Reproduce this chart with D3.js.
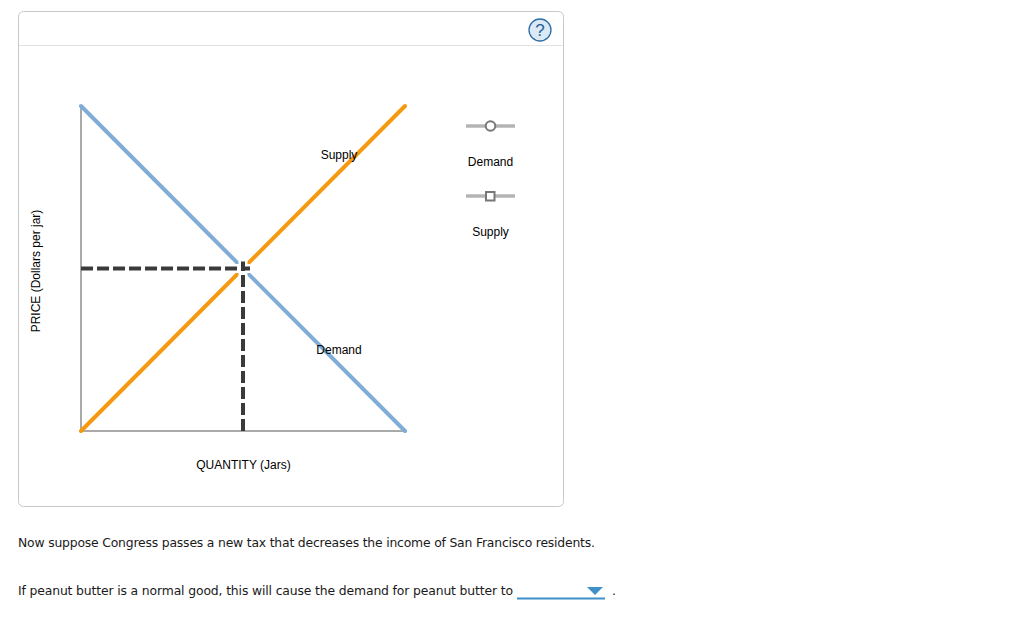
<!DOCTYPE html>
<html><head><meta charset="utf-8">
<script src="https://cdn.jsdelivr.net/npm/d3@7"></script>
<style>html,body{margin:0;padding:0;background:#fff;overflow:hidden}svg{display:block}</style>
</head><body><svg id="c" width="1023" height="617"></svg>
<script>
const demandQ=[0,100], demandP=[100,0];
const supplyQ=[0,100], supplyP=[0,100];
const eqQ=[50], eqP=[50];
const xLabel="QUANTITY (Jars)", yLabel="PRICE (Dollars per jar)";
const legendNames=["Demand","Supply"];
const para1="Now suppose Congress passes a new tax that decreases the income of San Francisco residents.";
const para2="If peanut butter is a normal good, this will cause the demand for peanut butter to";

const svg=d3.select("#c");
const x=d3.scaleLinear().domain([0,100]).range([81,405]);
const y=d3.scaleLinear().domain([0,100]).range([431,106]);
const sans="'Liberation Sans',Arial,sans-serif", verd="'DejaVu Sans',Verdana,sans-serif";

svg.append("rect").attr("x",18.5).attr("y",11.5).attr("width",545).attr("height",495).attr("rx",5)
  .attr("fill","#fff").attr("stroke","#c8c8c8");
svg.append("line").attr("x1",19).attr("x2",563).attr("y1",45.5).attr("y2",45.5).attr("stroke","#e2e2e2");

// help
const h=svg.append("g").attr("transform","translate(540,30)");
h.append("circle").attr("r",11).attr("fill","#dbe9f5").attr("stroke","#2f6ea5").attr("stroke-width",1.3);
h.append("text").attr("text-anchor","middle").attr("y",6).attr("font-family",sans).attr("font-size",17).attr("fill","#1f5f96").text("?");

// axes
const axis=svg.append("g");
axis.append("line").attr("x1",x(0)).attr("x2",x(0)).attr("y1",y(100)).attr("y2",y(0)).attr("stroke","#aaa").attr("stroke-width",2);
axis.append("line").attr("x1",x(0)).attr("x2",x(100)).attr("y1",y(0)).attr("y2",y(0)).attr("stroke","#aaa").attr("stroke-width",2);

const line=d3.line().x(d=>x(d[0])).y(d=>y(d[1]));
svg.append("path").attr("d",line(d3.zip(demandQ,demandP))).attr("fill","none").attr("stroke","#7fadd6").attr("stroke-width",4).attr("stroke-linecap","round");
svg.append("path").attr("d",line(d3.zip(supplyQ,supplyP))).attr("fill","none").attr("stroke","#f7990f").attr("stroke-width",4).attr("stroke-linecap","round");

// equilibrium guides
const ex=x(eqQ[0]), ey=y(eqP[0]);
svg.append("line").attr("x1",ex+8).attr("x2",ex-8).attr("y1",ey).attr("y2",ey).attr("stroke","#fff").attr("stroke-width",9);
svg.append("line").attr("x1",ex).attr("x2",ex).attr("y1",ey-8).attr("y2",ey+8).attr("stroke","#fff").attr("stroke-width",9);
const dark="#3a3a3a";
svg.append("line").attr("x1",x(0)).attr("x2",ex+7).attr("y1",ey).attr("y2",ey).attr("stroke",dark).attr("stroke-width",4).attr("stroke-dasharray","12 4");
svg.append("line").attr("x1",ex).attr("x2",ex).attr("y1",y(0)).attr("y2",ey-7).attr("stroke",dark).attr("stroke-width",4).attr("stroke-dasharray","12 4");

function label(t,px,py,extra){return svg.append("text").attr("x",px).attr("y",py).attr("text-anchor","middle").attr("font-family",sans).attr("font-size",12).attr("fill","#000").text(t);}
label("Supply",339,159);
label("Demand",339,354);
label(xLabel,243.5,469);
svg.append("text").attr("transform","translate(40,271) rotate(-90)").attr("text-anchor","middle").attr("font-family",sans).attr("font-size",12).attr("fill","#000").text(yLabel);

// legend
const gy=[126,196];
legendNames.forEach((n,i)=>{
  svg.append("line").attr("x1",466).attr("x2",515).attr("y1",gy[i]).attr("y2",gy[i]).attr("stroke","#b4b4b4").attr("stroke-width",3.5);
  if(i==0) svg.append("circle").attr("cx",490.5).attr("cy",gy[i]).attr("r",4.8).attr("fill","#fff").attr("stroke","#777").attr("stroke-width",2);
  else svg.append("rect").attr("x",486).attr("y",gy[i]-4).attr("width",8.5).attr("height",8.5).attr("fill","#fff").attr("stroke","#777").attr("stroke-width",2);
  label(n,490.5,gy[i]+40);
});

// text
svg.append("text").attr("x",18).attr("y",547).attr("font-family",verd).attr("font-size",12.4).attr("textLength",577).attr("fill","#1a1a1a").text(para1);
svg.append("text").attr("x",18).attr("y",595).attr("font-family",verd).attr("font-size",12.4).attr("textLength",495).attr("fill","#1a1a1a").text(para2);
svg.append("line").attr("x1",517).attr("x2",605).attr("y1",598.5).attr("y2",598.5).attr("stroke","#3f8fc9").attr("stroke-width",2);
svg.append("path").attr("d",d3.line()([[587,587],[603,587],[595,595]])+"Z").attr("fill","#3f8fc9");
svg.append("text").attr("x",612).attr("y",595).attr("font-family",verd).attr("font-size",12.4).attr("fill","#1a1a1a").text(".");
</script></body></html>
